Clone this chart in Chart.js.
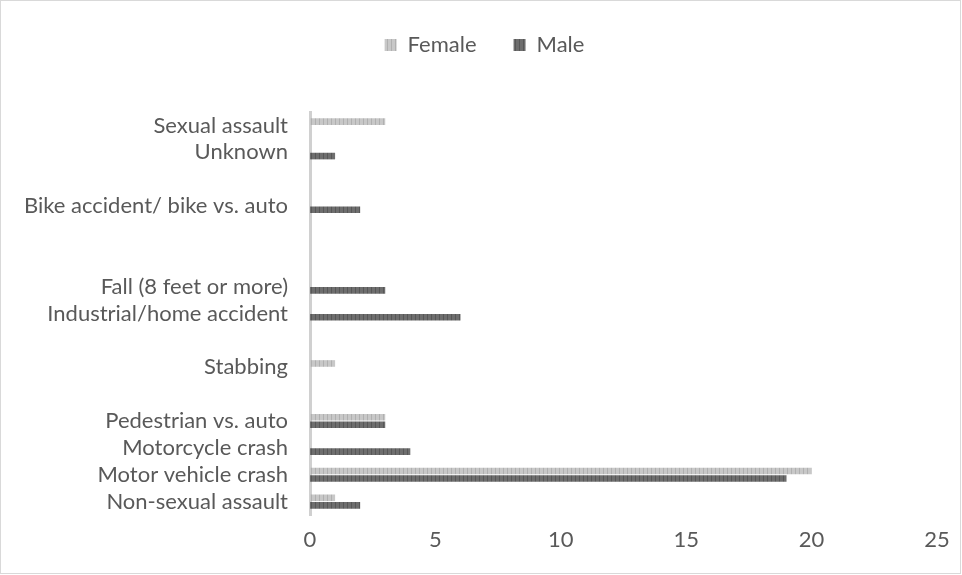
<!DOCTYPE html>
<html>
<head>
<meta charset="utf-8">
<script src="https://cdn.jsdelivr.net/npm/chart.js@4.4.0/dist/chart.umd.min.js"></script>
<style>
  body { margin: 0; background: #fff; }
  canvas { display: block; }
</style>
</head>
<body>
<canvas id="injuries" width="962" height="575"></canvas>
<script>
// categories bottom -> top, blanks are empty rows in the source chart
const categories = ['Non-sexual assault', 'Motor vehicle crash', 'Motorcycle crash', 'Pedestrian vs. auto', '',
  'Stabbing', '', 'Industrial/home accident', 'Fall (8 feet or more)', '', '',
  'Bike accident/ bike vs. auto', '', 'Unknown', 'Sexual assault'];
const female = [1, 20, null, 3, null, 1, null, null, null, null, null, null, null, null, 3];
const male = [2, 19, 4, 3, null, null, null, 6, 3, null, null, 2, null, 1, null];
const xTicks = [0, 5, 10, 15, 20, 25];

function stripes(base, line) {
    const c = document.createElement('canvas');
    c.width = 4; c.height = 4;
    const g = c.getContext('2d');
    g.fillStyle = base;
    g.fillRect(0, 0, 4, 4);
    g.fillStyle = line;
    g.fillRect(3, 0, 1, 4);
    return g.createPattern(c, 'repeat');
}

const ctx = document.getElementById('injuries').getContext('2d');
const femaleFill = stripes('#c8c8c8', '#b0b0b0');
const maleFill = stripes('#6e6e6e', '#575757');

// legend: wide gap between items, pulled up, extra space under it
const frame = {
    id: 'frame',
    beforeInit(chart) {
        const lg = chart.legend;
        const fit = lg.fit;
        lg.fit = function () {
            fit.bind(lg)();
            this.height += 23;
        };
        const draw = lg.draw;
        lg.draw = function () {
            chart.ctx.save();
            chart.ctx.translate(16, -23);
            draw.bind(lg)();
            chart.ctx.restore();
        };
    },
    afterDraw(chart) {
        const g = chart.ctx;
        g.save();
        g.strokeStyle = '#d9d9d9';
        g.lineWidth = 1;
        g.strokeRect(0.5, 0.5, 960, 573);
        g.restore();
    }
};

const font = { family: 'Lato', size: 22 };

new Chart(ctx, {
    type: 'bar',
    data: {
        labels: categories,
        datasets: [{
            label: 'Female',
            data: female,
            backgroundColor: femaleFill,
            categoryPercentage: 0.56,
            barPercentage: 0.88
        }, {
            label: 'Male',
            data: male,
            backgroundColor: maleFill,
            categoryPercentage: 0.56,
            barPercentage: 0.88
        }]
    },
    options: {
        responsive: false,
        animation: false,
        indexAxis: 'y',
        layout: { padding: { top: 20, right: 25, left: 0, bottom: 0 } },
        plugins: {
            legend: {
                position: 'top',
                labels: {
                    boxWidth: 12,
                    boxHeight: 12,
                    padding: 37,
                    color: '#595959',
                    font: font
                }
            },
            tooltip: { enabled: false }
        },
        scales: {
            x: {
                min: 0,
                max: 25,
                afterBuildTicks(scale) { scale.ticks = xTicks.map(v => ({ value: v })); },
                afterFit(scale) { scale.height = 60; },
                grid: { display: false },
                border: { display: false },
                ticks: { padding: 4, color: '#595959', font: font }
            },
            y: {
                reverse: true,
                afterFit(scale) { scale.width = 310; },
                grid: { display: false },
                border: { display: true, color: '#d0d0d0', width: 3 },
                ticks: { padding: 14, autoSkip: false, color: '#595959', font: font }
            }
        }
    },
    plugins: [frame]
});
</script>
</body>
</html>
